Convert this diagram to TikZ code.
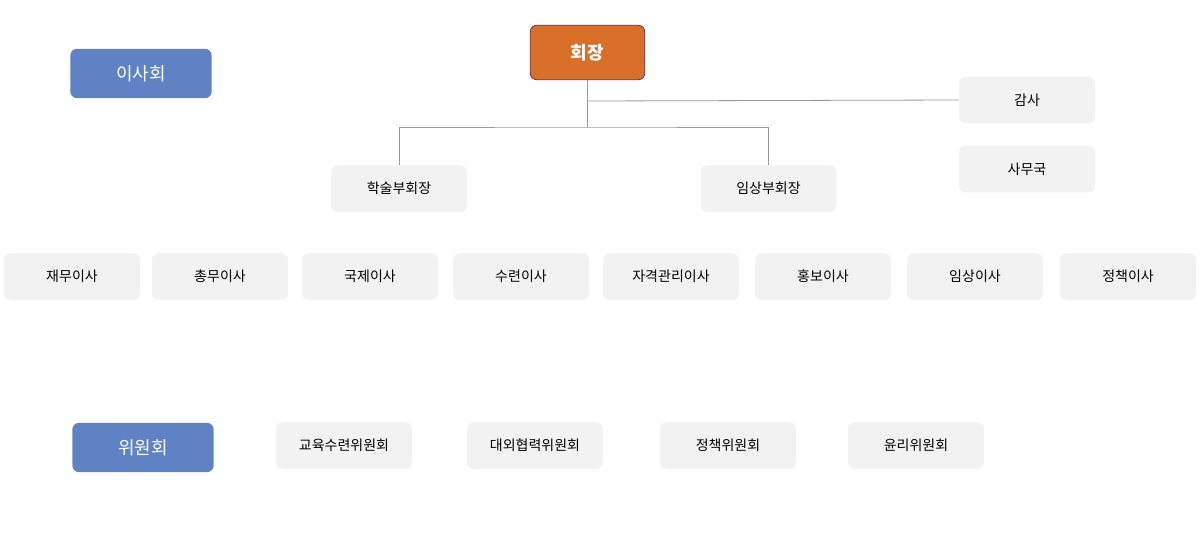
\documentclass[tikz,border=0pt]{standalone}
\usepackage{fontspec}
\setmainfont{Noto Sans CJK KR}
\begin{document}
\begin{tikzpicture}[x=0.75pt,y=-0.75pt,
 gbox/.style={fill=black!5,draw=none,rounded corners=5pt,minimum width=102pt,minimum height=35pt,font=\fontsize{10.5}{12}\selectfont,inner sep=0pt},
 bbox/.style={fill=blue!60!cyan!30!black!20,fill={rgb,255:red,95;green,130;blue,196},draw=none,rounded corners=5pt,minimum width=106pt,minimum height=37pt,text=white,font=\fontsize{13.5}{15}\selectfont,inner sep=0pt},
 ln/.style={draw=black!40,line width=0.6pt}]
\useasboundingbox (0,0) rectangle (1200,536);
\node[fill={rgb,255:red,217;green,112;blue,42},draw={rgb,255:red,30;green,20;blue,120},rounded corners=5pt,minimum width=86pt,minimum height=41pt,text=white,font=\bfseries\fontsize{13.5}{15}\selectfont,inner sep=0pt] (pres) at (587.5,52.5) {회장};
\node[bbox] (board) at (141,73.5) {이사회};
\node[bbox] (comm) at (143,447.5) {위원회};
\node[gbox] (audit) at (1027,100) {감사};
\node[gbox] (office) at (1027,169) {사무국};
\node[gbox] (vp1) at (399,188.5) {학술부회장};
\node[gbox] (vp2) at (768.5,188.5) {임상부회장};
\foreach \n/\x/\t in {d1/72/재무이사,d2/220/총무이사,d3/370/국제이사,d4/521/수련이사,d5/671/자격관리이사,d6/823/홍보이사,d7/975/임상이사,d8/1128/정책이사}
  \node[gbox] (\n) at (\x,276.5) {\t};
\foreach \n/\x/\t in {c1/344/교육수련위원회,c2/535/대외협력위원회,c3/728/정책위원회,c4/916/윤리위원회}
  \node[gbox] (\n) at (\x,445.5) {\t};
\coordinate (j1) at (587.5,127);
\coordinate (j2) at (587.5,101);
\draw[ln] (pres.south) -- (j1);
\draw[ln] (j2) -- (audit.west);
\draw[ln] (vp1.north) |- (j1) -| (vp2.north);
\end{tikzpicture}
\end{document}
